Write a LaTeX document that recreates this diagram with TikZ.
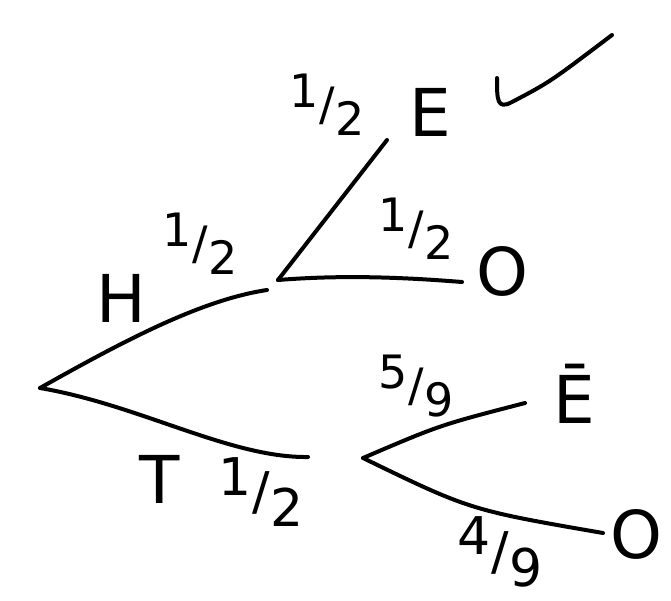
\documentclass[tikz,border=0pt]{standalone}
\usepackage{fontspec}
\setmainfont{DejaVu Sans}
\newcommand{\hfr}[2]{\raisebox{0.5ex}{#1}\kern0.02em/\kern0.02em\raisebox{-0.6ex}{#2}}
\begin{document}
\begin{tikzpicture}[x=1pt,y=-1pt,line width=4pt,line cap=round,line join=round,
  lbl/.style={font=\fontsize{66}{70}\selectfont,inner sep=0pt},
  frac/.style={font=\fontsize{46}{50}\selectfont,inner sep=0pt},
  bigfrac/.style={font=\fontsize{52}{56}\selectfont,inner sep=0pt},
  branch/.style={draw=black}]
\useasboundingbox (0,0) rectangle (671,600);
% branch points
\coordinate (root) at (40,388);
\coordinate (h) at (267,290);
\coordinate (hn) at (278,280);
\coordinate (e1) at (387,140);
\coordinate (o1) at (462,282);
\coordinate (t) at (308,457);
\coordinate (tn) at (363,458);
\coordinate (e2) at (525,403);
\coordinate (o2) at (603,533);
% labels
\node[lbl] (H) at (121,298) {H};
\node[frac] (fH) at (200,244) {\hfr{1}{2}};
\node[lbl] (T) at (160,479) {T};
\node[bigfrac] (fT) at (261,492) {\hfr{1}{2}};
\node[frac] (fE1) at (327,105) {\hfr{1}{2}};
\node[lbl] (E1) at (430,112) {E};
\node[frac] (fO1) at (416,229) {\hfr{1}{2}};
\node[lbl] (O1) at (502,271) {O};
\node[frac] (fE2) at (416,386) {\hfr{5}{9}};
\node[lbl] (E2) at (574,394) {Ē};
\node[bigfrac] (fO2) at (500,552) {\hfr{4}{9}};
\node[lbl] (O2) at (636,534) {O};
% branches
\draw[branch] (root) .. controls (120,343) and (200,300) .. (h);
\draw[branch] (hn) -- (e1);
\draw[branch] (hn) .. controls (340,275) and (400,277) .. (o1);
\draw[branch] (root) .. controls (140,405) and (230,458) .. (t);
\draw[branch] (tn) .. controls (440,425) .. (e2);
\draw[branch] (tn) .. controls (470,510) .. (o2);
% check mark
\draw (497,78) .. controls (497,100) and (497,110) .. (512,102) .. controls (550,82) .. (612,35);
\end{tikzpicture}
\end{document}
